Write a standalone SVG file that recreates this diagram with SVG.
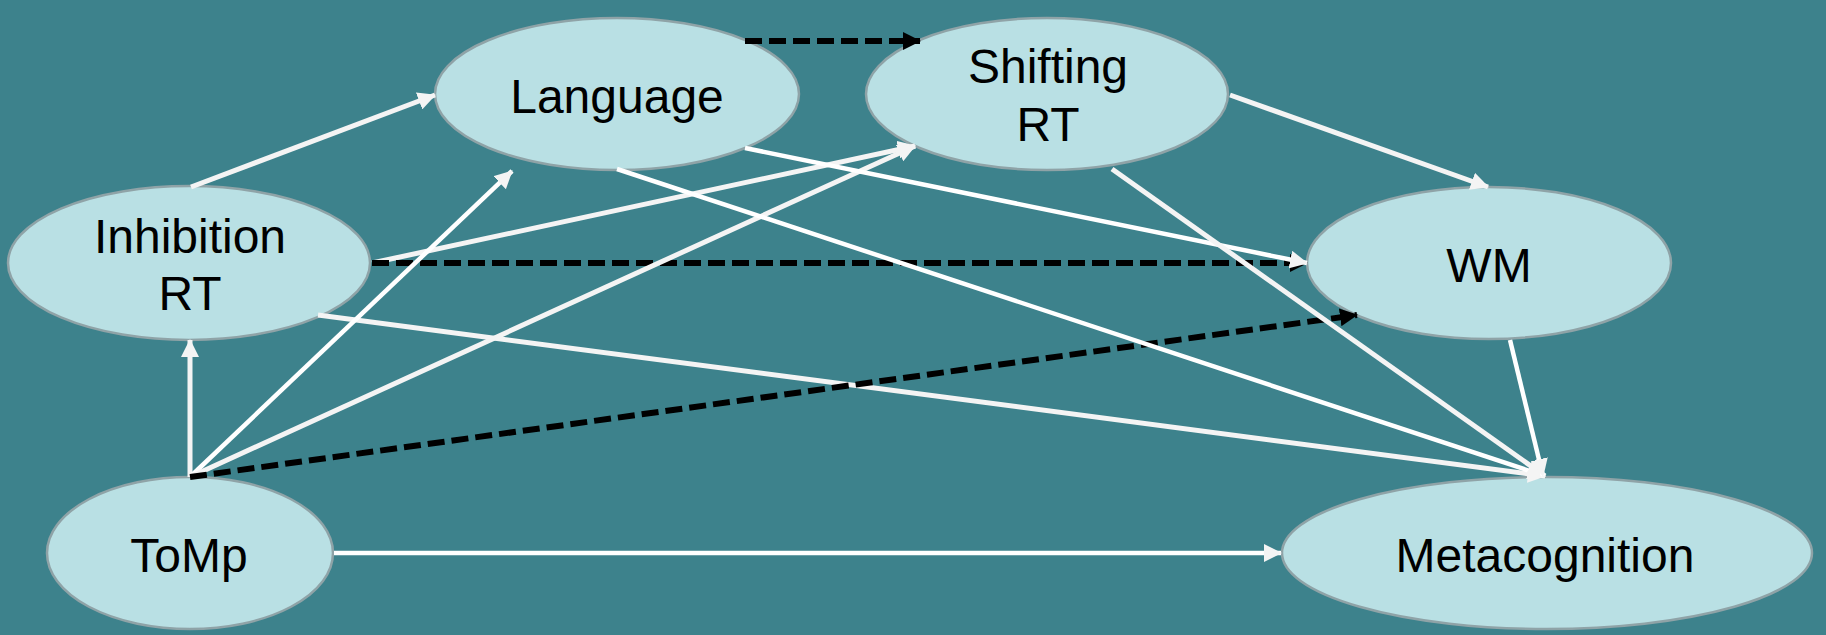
<svg xmlns="http://www.w3.org/2000/svg" width="1826" height="635" viewBox="0 0 1826 635">
<style>
.node ellipse{fill:#B9E0E4;stroke:#8FA3A7;stroke-width:2.5}
.node text{font-family:"Liberation Sans",Arial,sans-serif;font-size:48px;fill:#000;text-anchor:middle}
.w{stroke:#F4F4F4;stroke-width:5;fill:none}
.wt{stroke:#FFFFFF;stroke-width:4.5;fill:none}
.d{stroke:#000;stroke-width:6;stroke-dasharray:17 7;fill:none}
</style>
<defs>
<marker id="aw" markerUnits="userSpaceOnUse" viewBox="0 0 18 18" refX="17" refY="9" markerWidth="18" markerHeight="18" orient="auto"><path d="M0,0 L18,9 L0,18 z" fill="#F4F4F4"/></marker>
<marker id="ab" markerUnits="userSpaceOnUse" viewBox="0 0 18 18" refX="17" refY="9" markerWidth="18" markerHeight="18" orient="auto"><path d="M0,0 L18,9 L0,18 z" fill="#000"/></marker>
</defs>
<rect width="1826" height="635" fill="#3D828C"/>
<g id="n-language" class="node"><ellipse cx="617" cy="94" rx="182" ry="76"/><text x="617" y="113">Language</text></g>
<g id="n-shifting" class="node"><ellipse cx="1047" cy="94" rx="181" ry="76"/><text x="1048" y="83">Shifting</text><text x="1048" y="141">RT</text></g>
<g id="n-inhibition" class="node"><ellipse cx="189" cy="263" rx="181" ry="77"/><text x="190" y="253">Inhibition</text><text x="190" y="310">RT</text></g>
<g id="n-wm" class="node"><ellipse cx="1489" cy="263" rx="182" ry="76"/><text x="1489" y="282">WM</text></g>
<g id="n-tomp" class="node"><ellipse cx="190" cy="553" rx="143" ry="76"/><text x="189" y="572">ToMp</text></g>
<g id="n-metacognition" class="node"><ellipse cx="1547" cy="553" rx="265" ry="76"/><text x="1545" y="572">Metacognition</text></g>
<g id="connectors">
<line class="d" x1="745" y1="41" x2="920" y2="41" marker-end="url(#ab)"/>
<line class="w" x1="191" y1="187" x2="435" y2="95" marker-end="url(#aw)"/>
<line class="w" x1="372" y1="263" x2="915" y2="146" marker-end="url(#aw)"/>
<line class="d" x1="372" y1="263" x2="1307" y2="263" marker-end="url(#ab)"/>
<line class="w" x1="318" y1="315" x2="1545" y2="476" marker-end="url(#aw)"/>
<line class="w" x1="190" y1="477" x2="190" y2="340" marker-end="url(#aw)"/>
<line class="wt" x1="190" y1="477" x2="512" y2="171" marker-end="url(#aw)"/>
<line class="w" x1="190" y1="477" x2="915" y2="146" marker-end="url(#aw)"/>
<line class="d" x1="190" y1="477" x2="1357" y2="315" marker-end="url(#ab)"/>
<line class="wt" x1="334" y1="553" x2="1281" y2="553" marker-end="url(#aw)"/>
<line class="wt" x1="745" y1="148" x2="1307" y2="263" marker-end="url(#aw)"/>
<line class="wt" x1="617" y1="169" x2="1545" y2="476" marker-end="url(#aw)"/>
<line class="w" x1="1230" y1="95" x2="1488" y2="187" marker-end="url(#aw)"/>
<line class="w" x1="1112" y1="169" x2="1545" y2="476" marker-end="url(#aw)"/>
<line class="wt" x1="1510" y1="340" x2="1543" y2="476" marker-end="url(#aw)"/>
</g>
</svg>
